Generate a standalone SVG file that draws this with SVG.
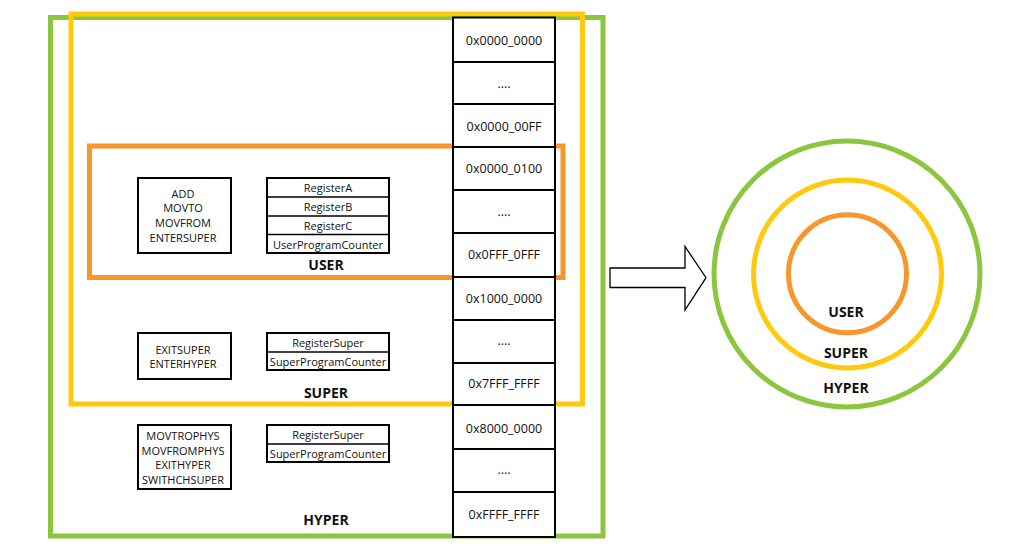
<svg xmlns="http://www.w3.org/2000/svg" width="1013" height="556" viewBox="0 0 1013 556">
<style>
.t{font-family:"Open Sans","Liberation Sans",sans-serif;font-size:11px;fill:#111;text-anchor:middle;dominant-baseline:central}
.m{font-family:"Open Sans","Liberation Sans",sans-serif;font-size:12.5px;fill:#111;text-anchor:middle;dominant-baseline:central}
.b{font-family:"Open Sans","Liberation Sans",sans-serif;font-size:14px;font-weight:bold;fill:#111;text-anchor:middle;dominant-baseline:central}
.box{fill:#fff;stroke:#000;stroke-width:2}
.g{fill:none;stroke:#8cc63f;stroke-width:5}
.y{fill:none;stroke:#ffc90e;stroke-width:5}
.o{fill:none;stroke:#f7962a;stroke-width:5}
</style>
<rect width="1013" height="556" fill="#fff"/>
<g id="hyper-region"><rect class="g" x="50.5" y="17.5" width="552.5" height="518.5"/></g>
<g id="super-region"><rect class="y" x="71" y="14" width="511.5" height="390"/></g>
<g id="user-region"><rect class="o" x="89.5" y="146" width="473.5" height="131.5"/></g>

<g id="memory">
<rect class="box" x="453" y="17.5" width="102" height="519.5"/>
<path d="M453 62H555M453 104H555M453 147H555M453 190H555M453 233H555M453 277H555M453 320H555M453 363H555M453 405H555M453 449H555M453 492H555" stroke="#000" stroke-width="2" fill="none"/>
<text class="m" x="504" y="40">0x0000_0000</text>
<text class="m" x="504" y="83">....</text>
<text class="m" x="504" y="126">0x0000_00FF</text>
<text class="m" x="504" y="168.5">0x0000_0100</text>
<text class="m" x="504" y="211">....</text>
<text class="m" x="504" y="254.5">0x0FFF_0FFF</text>
<text class="m" x="504" y="298">0x1000_0000</text>
<text class="m" x="504" y="340">....</text>
<text class="m" x="504" y="383.5">0x7FFF_FFFF</text>
<text class="m" x="504" y="428">0x8000_0000</text>
<text class="m" x="504" y="469">....</text>
<text class="m" x="504" y="514">0xFFFF_FFFF</text>
</g>

<g id="user-instructions">
<rect class="box" x="138" y="178" width="93" height="75"/>
<text class="t" x="183" y="193">ADD</text>
<text class="t" x="183" y="207.5">MOVTO</text>
<text class="t" x="183" y="222">MOVFROM</text>
<text class="t" x="183" y="237">ENTERSUPER</text>
</g>
<g id="user-registers">
<rect class="box" x="267" y="178" width="122" height="75"/>
<path d="M267 197H389M267 216H389M267 234.5H389" stroke="#000" stroke-width="1.6"/>
<text class="t" x="328" y="187.5">RegisterA</text>
<text class="t" x="328" y="206.5">RegisterB</text>
<text class="t" x="328" y="225">RegisterC</text>
<text class="t" x="328" y="244">UserProgramCounter</text>
<text class="b" x="326" y="264">USER</text>
</g>

<g id="super-instructions">
<rect class="box" x="138" y="333" width="93" height="46"/>
<text class="t" x="183" y="349">EXITSUPER</text>
<text class="t" x="183" y="363">ENTERHYPER</text>
</g>
<g id="super-registers">
<rect class="box" x="267" y="333" width="122" height="37"/>
<path d="M267 352H389" stroke="#000" stroke-width="1.6"/>
<text class="t" x="328" y="342.5">RegisterSuper</text>
<text class="t" x="328" y="361.5">SuperProgramCounter</text>
<text class="b" x="326" y="392.5">SUPER</text>
</g>

<g id="hyper-instructions">
<rect class="box" x="138" y="425" width="93" height="64"/>
<text class="t" x="183" y="435.5">MOVTROPHYS</text>
<text class="t" x="183" y="450">MOVFROMPHYS</text>
<text class="t" x="183" y="464.5">EXITHYPER</text>
<text class="t" x="183" y="479.5">SWITHCHSUPER</text>
</g>
<g id="hyper-registers">
<rect class="box" x="267" y="425" width="122" height="37"/>
<path d="M267 444H389" stroke="#000" stroke-width="1.6"/>
<text class="t" x="328" y="434.5">RegisterSuper</text>
<text class="t" x="328" y="453.5">SuperProgramCounter</text>
<text class="b" x="326" y="519.5">HYPER</text>
</g>

<g id="connectors">
<polygon points="610,268 685,268 685,246.5 706,277.7 685,310 685,287.5 610,287.5" fill="#fff" stroke="#000" stroke-width="1.3" stroke-linejoin="miter"/>
</g>

<g id="rings">
<circle cx="847" cy="274" r="133" class="g" stroke-width="4.5"/>
<circle cx="847.5" cy="274" r="94" class="y" stroke-width="4.5"/>
<circle cx="847.5" cy="273.7" r="59" class="o" stroke-width="5"/>
<text class="b" x="846" y="311">USER</text>
<text class="b" x="846" y="352.5">SUPER</text>
<text class="b" x="846" y="387">HYPER</text>
</g>
</svg>
